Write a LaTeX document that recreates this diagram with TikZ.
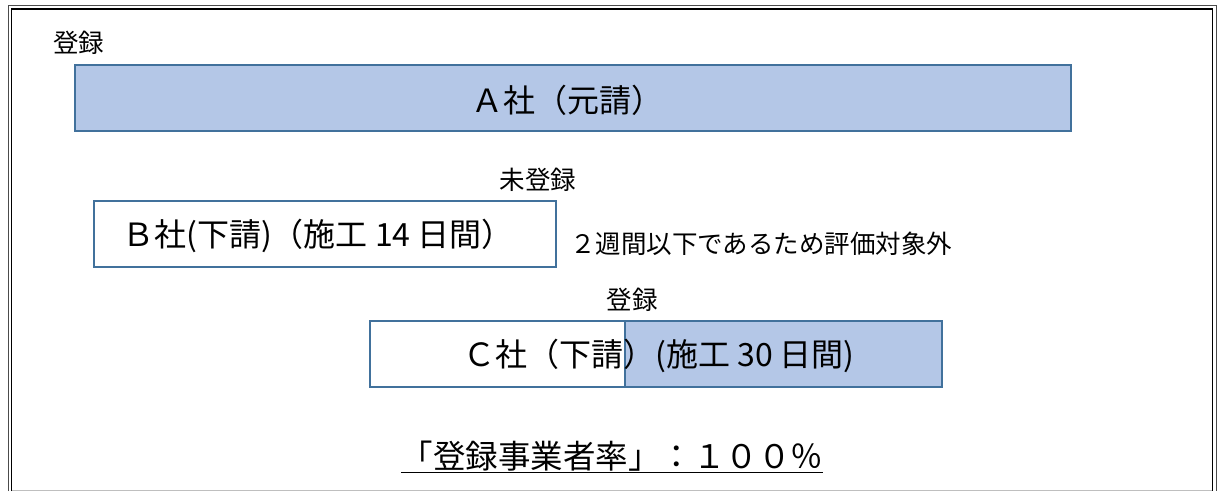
\documentclass[tikz,border=0pt]{standalone}
\usepackage{fontspec}
\newfontfamily\jp{Noto Sans CJK JP}
\definecolor{boxfill}{HTML}{B4C7E7}
\definecolor{boxline}{HTML}{41719C}
\begin{document}
\begin{tikzpicture}[x=1pt,y=-1pt,
  bar/.style={draw=boxline, line width=2.6pt, minimum height=66pt, inner sep=0pt},
  big/.style={font=\jp\fontsize{32}{36}\selectfont, inner sep=0pt},
  lab/.style={font=\jp\fontsize{25.5}{28}\selectfont, inner sep=0pt}]
\useasboundingbox (0,0) rectangle (1220,491);
% frame
\draw[gray!60!black, line width=1pt] (8,491) -- (8,5) -- (1216,5) -- (1216,491);
\draw[black, line width=1.6pt] (11.5,491) -- (11.5,9) -- (1212.5,9) -- (1212.5,491);
\draw[gray!50, line width=1pt] (12,490) -- (1212,490);
% A
\node[lab, anchor=west] (la) at (53,43) {登録};
\node[bar, fill=boxfill, minimum width=996pt] (A) at (573,98) {};
\node[big] (ta) at (567,100) {Ａ社（元請）};
% B
\node[lab] (lb) at (538,180) {未登録};
\node[bar, fill=white, minimum width=462pt] (B) at (325,234) {};
\node[big] (tb) at (318,236) {Ｂ社(下請)（施工 14 日間）};
\node[lab, anchor=west] (nb) at (570,244) {２週間以下であるため評価対象外};
% C
\node[lab] (lc) at (632,300) {登録};
\node[bar, fill=white, minimum width=572pt] (C) at (656,354) {};
\node[bar, fill=boxfill, minimum width=317pt] (Cb) at (783.5,354) {};
\node[big] (tc) at (659,356) {Ｃ社（下請）(施工 30 日間)};
% result
\node[font=\jp\fontsize{32.5}{36}\selectfont, inner sep=0pt] (r) at (612,457) {\underline{「登録事業者率」：１００％}};
\end{tikzpicture}
\end{document}
